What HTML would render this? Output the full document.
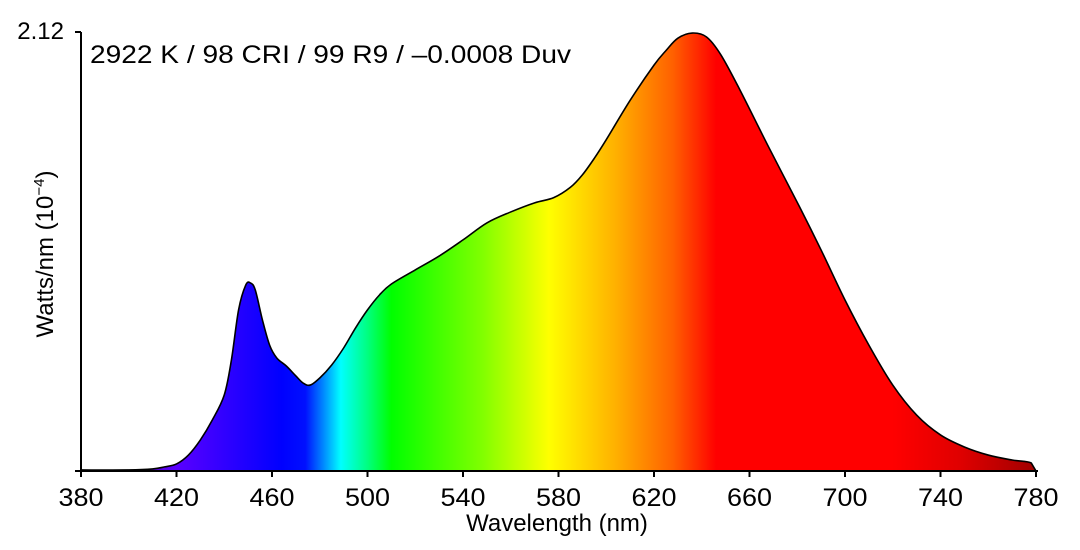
<!DOCTYPE html>
<html><head><meta charset="utf-8"><style>
html,body{margin:0;padding:0;background:#fff;}
svg{display:block;font-family:"Liberation Sans",sans-serif;}
</style></head><body>
<svg id="chart" width="1080" height="550" viewBox="0 0 1080 550" xmlns="http://www.w3.org/2000/svg">
<defs>
<linearGradient id="spec" gradientUnits="userSpaceOnUse" x1="81" y1="0" x2="1036" y2="0">
<stop offset="0" stop-color="#4a0060"/>
<stop offset="0.1" stop-color="#5a00ff"/>
<stop offset="0.17" stop-color="#2000ff"/>
<stop offset="0.21" stop-color="#0000ff"/>
<stop offset="0.235" stop-color="#0010ff"/>
<stop offset="0.255" stop-color="#0090ff"/>
<stop offset="0.272" stop-color="#00ffff"/>
<stop offset="0.30" stop-color="#00ff80"/>
<stop offset="0.325" stop-color="#00ff00"/>
<stop offset="0.42" stop-color="#80ff00"/>
<stop offset="0.49" stop-color="#ffff00"/>
<stop offset="0.56" stop-color="#ffb000"/>
<stop offset="0.62" stop-color="#ff6000"/>
<stop offset="0.665" stop-color="#ff0000"/>
<stop offset="0.85" stop-color="#ff0000"/>
<stop offset="0.92" stop-color="#e00000"/>
<stop offset="1" stop-color="#a00000"/>
</linearGradient>
</defs>
<g id="plot"></g>
<text x="90" y="63" font-size="25" textLength="481" lengthAdjust="spacingAndGlyphs" fill="#000">2922 K / 98 CRI / 99 R9 / –0.0008 Duv</text>
<text x="557" y="531" font-size="24" text-anchor="middle">Wavelength (nm)</text>
<text transform="translate(53,254) rotate(-90)" font-size="24" text-anchor="middle">Watts/nm (10<tspan font-size="15" dy="-9">−4</tspan><tspan dy="9">)</tspan></text>
</svg>
<script>
const wavelengths=[380,400,410,415,420,425,430,435,440,443,446,449,451,453,456,459,462,466,470,473,476,480,485,490,495,500,505,510,520,530,540,550,560,570,578,585,590,595,600,610,620,625,630,636,642,648,656,668,681,690,700,710,720,730,740,750,760,770,778,780];
const power=[0.005,0.005,0.01,0.02,0.034,0.077,0.15,0.246,0.367,0.536,0.778,0.898,0.908,0.874,0.729,0.608,0.546,0.507,0.459,0.425,0.415,0.449,0.512,0.594,0.691,0.778,0.85,0.903,0.971,1.038,1.116,1.198,1.251,1.295,1.32,1.37,1.43,1.51,1.60,1.79,1.96,2.03,2.09,2.115,2.096,2.01,1.84,1.565,1.275,1.067,0.826,0.608,0.415,0.27,0.174,0.116,0.077,0.053,0.039,0];
const xTicks=[380,420,460,500,540,580,620,660,700,740,780];
const yTicks=[0,2.12];
const yTickLabels=["","2.12"];
const NS="http://www.w3.org/2000/svg";
const X0=81,X1=1036,Y0=471,Y1=32;
function xs(w){return X0+(w-380)/(780-380)*(X1-X0);}
function ys(v){return Y0-(v/2.12)*(Y0-Y1);}
const g=document.getElementById('plot');
function mk(t,a){const e=document.createElementNS(NS,t);for(const k in a)e.setAttribute(k,a[k]);g.appendChild(e);return e;}
const pts=wavelengths.map((w,i)=>[xs(w),ys(power[i])]);
function smooth(p){
  let s='M'+p[0][0].toFixed(2)+','+p[0][1].toFixed(2);
  for(let i=0;i<p.length-1;i++){
    const p0=p[Math.max(i-1,0)],p1=p[i],p2=p[i+1],p3=p[Math.min(i+2,p.length-1)];
    if(i===p.length-2){s+=' L'+p2[0].toFixed(2)+','+p2[1].toFixed(2);continue;}
    const c1=[p1[0]+(p2[0]-p0[0])/6,p1[1]+(p2[1]-p0[1])/6];
    const c2=[p2[0]-(p3[0]-p1[0])/6,p2[1]-(p3[1]-p1[1])/6];
    s+=' C'+c1[0].toFixed(2)+','+c1[1].toFixed(2)+' '+c2[0].toFixed(2)+','+c2[1].toFixed(2)+' '+p2[0].toFixed(2)+','+p2[1].toFixed(2);
  }
  return s;
}
const ld=smooth(pts);
const area=mk('path',{d:ld+' L'+pts[pts.length-1][0]+','+Y0+' L'+pts[0][0]+','+Y0+' Z',fill:'url(#spec)',stroke:'none'});


const line=mk('path',{d:ld,fill:'none',stroke:'#000','stroke-width':1.6,'stroke-linejoin':'round'});


const xa=mk('line',{x1:X0,y1:Y0,x2:X1+2,y2:Y0,stroke:'#000','stroke-width':2});


const ya=mk('line',{x1:X0,y1:Y0,x2:X0,y2:Y1,stroke:'#000','stroke-width':2});


xTicks.forEach(w=>{
  const t=mk('line',{x1:xs(w),y1:Y0,x2:xs(w),y2:Y0+6,stroke:'#000','stroke-width':2});
  
  
  const l=mk('text',{x:xs(w),y:Y0+35,'font-size':25,'text-anchor':'middle',textLength:45,lengthAdjust:'spacingAndGlyphs'});
  l.textContent=w;
  
  
});
yTicks.forEach((v,i)=>{
  const t=mk('line',{x1:X0-6,y1:ys(v),x2:X0,y2:ys(v),stroke:'#000','stroke-width':2});
  
  
  if(yTickLabels[i]){
    const l=mk('text',{x:X0-17,y:ys(v)+7,'font-size':24,'text-anchor':'end'});
    l.textContent=yTickLabels[i];
    
    
  }
});
</script>
</body></html>
